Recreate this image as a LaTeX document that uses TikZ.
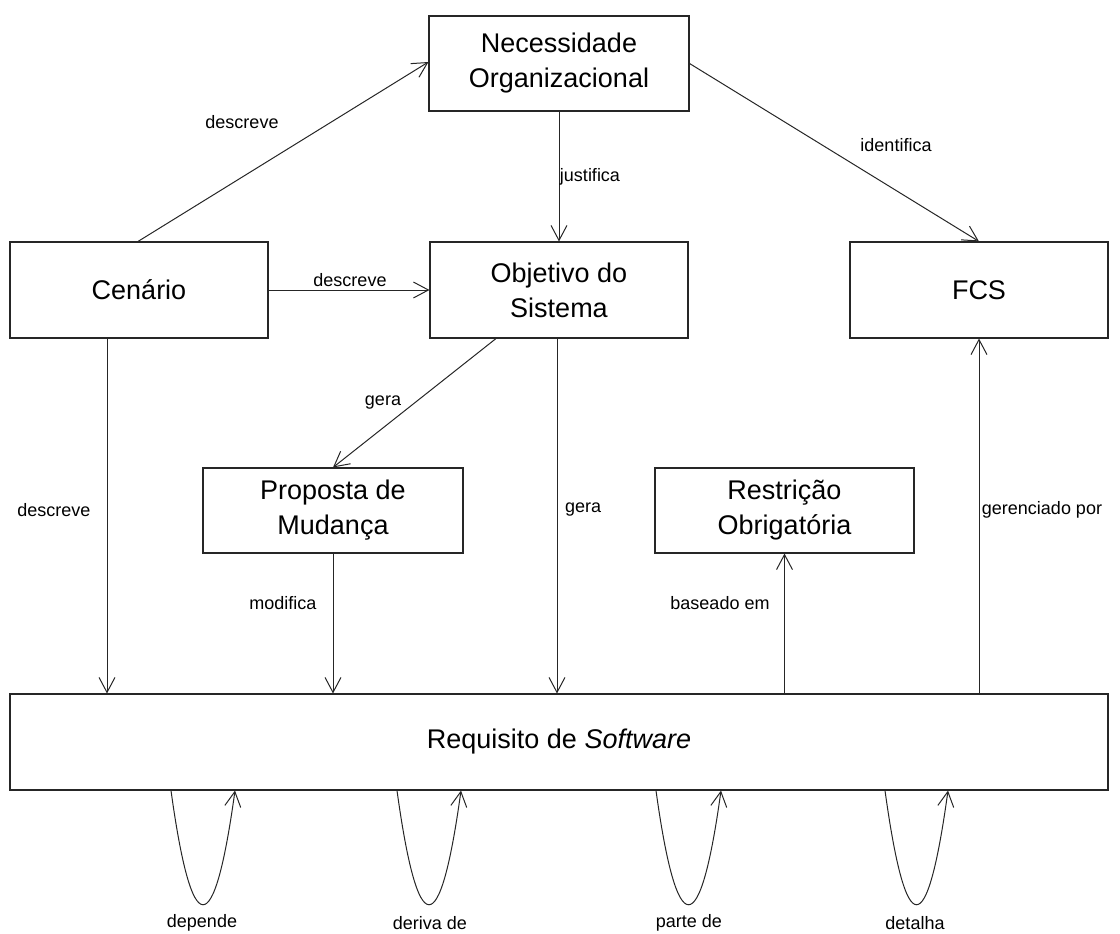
\documentclass[tikz,border=0pt]{standalone}
\usepackage{fontspec}
\setmainfont{Liberation Sans}
\usetikzlibrary{arrows.meta}

\begin{document}
\begin{tikzpicture}[x=1pt, y=-1pt,
  box/.style={draw=black!85, line width=1.1pt, align=center, inner sep=0pt,
    font=\fontsize{27}{35}\selectfont},
  arr/.style={draw=black!85, line width=1pt,
    -{Straight Barb[length=15pt, width=16pt, line width=1pt]}},
  loopy/.style={arr},
  lbl/.style={inner sep=0pt, font=\fontsize{18}{21}\selectfont}
]
\useasboundingbox (0,0) rectangle (1120,934);

% concept boxes
\node[box, minimum width=260pt, minimum height=95pt] (nec) at (559,63.5) {Necessidade\\Organizacional};
\node[box, minimum width=258pt, minimum height=96pt] (cen) at (139,290) {Cenário};
\node[box, minimum width=258pt, minimum height=96pt] (obj) at (559,290) {Objetivo do\\Sistema};
\node[box, minimum width=258pt, minimum height=96pt] (fcs) at (979,290) {FCS};
\node[box, minimum width=260pt, minimum height=85pt] (prop) at (333,510.5) {Proposta de\\Mudança};
\node[box, minimum width=259pt, minimum height=85pt] (rest) at (784.5,510.5) {Restrição\\Obrigatória};
\node[box, minimum width=1098pt, minimum height=96pt] (req) at (559,742) {Requisito de \textit{Software}};

% relations between the boxes
\draw[arr] ([xshift=-1pt]cen.north) -- ([yshift=1.5pt]nec.west);
\draw[arr] (nec.south) -- (obj.north);
\draw[arr] (nec.east) -- (fcs.north);
\draw[arr] (cen.east) -- (obj.west);
\draw[arr] ([xshift=-63pt]obj.south) -- (prop.north);
\draw[arr] ([xshift=-2pt]obj.south) -- ([xshift=-2pt]obj.south |- req.north);
\draw[arr] ([xshift=-32pt]cen.south) -- ([xshift=-32pt]cen.south |- req.north);
\draw[arr] (prop.south) -- (prop.south |- req.north);
\draw[arr] (rest.south |- req.north) -- (rest.south);
\draw[arr] (fcs.south |- req.north) -- (fcs.south);

% self relations of the requirement (parabolic loops)
\draw[loopy] ([xshift=-388pt]req.south) .. controls +(21,152) and +(-21,152) .. ([xshift=-324pt]req.south);
\draw[loopy] ([xshift=-162pt]req.south) .. controls +(21,152) and +(-21,152) .. ([xshift=-98pt]req.south);
\draw[loopy] ([xshift=97pt]req.south) .. controls +(21,152) and +(-21,152) .. ([xshift=162pt]req.south);
\draw[loopy] ([xshift=326pt]req.south) .. controls +(21,152) and +(-21,152) .. ([xshift=389pt]req.south);

% relation names
\node[lbl] (l1) at (242,122) {descreve};
\node[lbl] (l2) at (590,177) {justifica};
\node[lbl] (l3) at (896,145) {identifica};
\node[lbl] (l4) at (350,280) {descreve};
\node[lbl] (l5) at (383,403) {gera};
\node[lbl] (l6) at (54,510) {descreve};
\node[lbl, anchor=west] (l7) at (565,510) {gera};
\node[lbl] (l8) at (1042,510) {gerenciado por};
\node[lbl] (l9) at (283,603) {modifica};
\node[lbl] (l10) at (720,603) {baseado em};
\node[lbl] (l11) at (202,923) {depende};
\node[lbl] (l12) at (430,923) {deriva de};
\node[lbl] (l13) at (689,923) {parte de};
\node[lbl] (l14) at (915,923) {detalha};
\end{tikzpicture}
\end{document}
